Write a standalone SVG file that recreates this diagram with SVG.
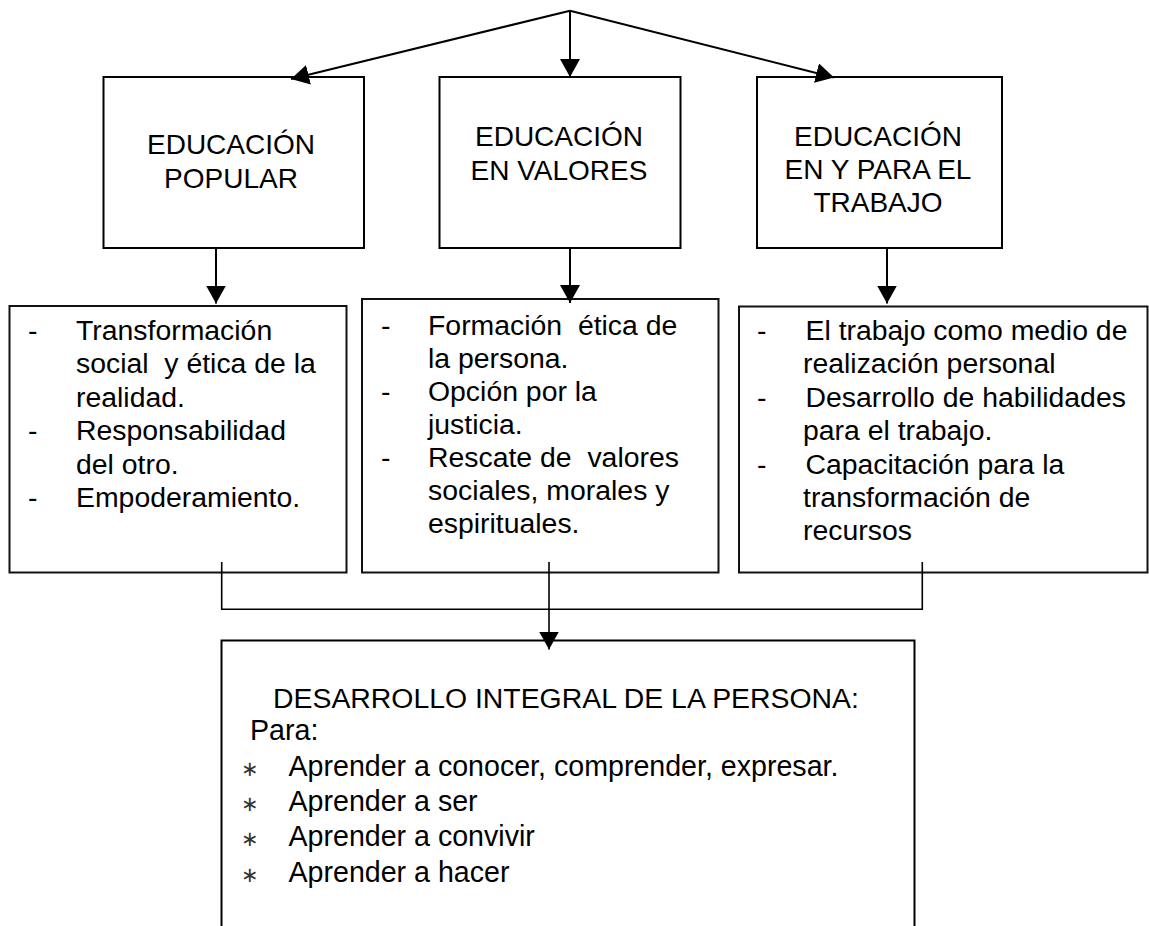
<svg xmlns="http://www.w3.org/2000/svg" width="1149" height="926" viewBox="0 0 1149 926">
<style>
  text { font-family: "Liberation Sans", Arial, sans-serif; font-size: 28px; fill: #000; white-space: pre; }
  .l { font-size: 28.4px; }
  .b { font-size: 28.6px; }
  .c { text-anchor: middle; }
  .box { fill: #fff; stroke: #000; stroke-width: 2; }
  .lbox { fill: #fff; stroke: #111; stroke-width: 2; }
  .conn { fill: none; stroke: #000; stroke-width: 2; }
  .thin { fill: none; stroke: #000; stroke-width: 1.6; }
  .star { font-family: "DejaVu Sans", sans-serif; font-size: 21px; fill: #333; }
</style>
<defs>
  <marker id="ah" markerUnits="userSpaceOnUse" markerWidth="18" markerHeight="20" refX="18" refY="10" orient="auto" viewBox="0 0 18 20">
    <path d="M0,0 L18,10 L0,20 z" fill="#000"/>
  </marker>
</defs>
<rect x="0" y="0" width="1149" height="926" fill="#fff"/>

<g id="node-popular">
  <rect class="box" x="103.5" y="77" width="260.5" height="171"/>
  <text class="c" x="231" y="154">EDUCACIÓN</text>
  <text class="c" x="231" y="188">POPULAR</text>
</g>
<g id="node-valores">
  <rect class="box" x="439.5" y="77" width="241" height="171"/>
  <text class="c" x="559" y="146">EDUCACIÓN</text>
  <text class="c" x="559" y="180">EN VALORES</text>
</g>
<g id="node-trabajo">
  <rect class="box" x="757" y="77" width="245" height="171"/>
  <text class="c" x="878" y="146">EDUCACIÓN</text>
  <text class="c" x="878" y="179">EN Y PARA EL</text>
  <text class="c" x="878" y="212">TRABAJO</text>
</g>

<g id="list-popular" class="l">
  <rect class="lbox" x="9.5" y="306" width="337" height="266.5"/>
  <text class="l" x="28" y="340">-</text><text class="l" x="76" y="340">Transformación</text>
  <text class="l" x="76" y="373.4">social  y ética de la</text>
  <text class="l" x="76" y="406.8">realidad.</text>
  <text class="l" x="28" y="440.2">-</text><text class="l" x="76" y="440.2">Responsabilidad</text>
  <text class="l" x="76" y="473.6">del otro.</text>
  <text class="l" x="28" y="507">-</text><text class="l" x="76" y="507">Empoderamiento.</text>
</g>
<g id="list-valores">
  <rect class="lbox" x="362" y="299" width="356.5" height="273.5"/>
  <text class="l" x="381" y="335">-</text><text class="l" x="428" y="335">Formación  ética de</text>
  <text class="l" x="428" y="368">la persona.</text>
  <text class="l" x="381" y="401">-</text><text class="l" x="428" y="401">Opción por la</text>
  <text class="l" x="428" y="434">justicia.</text>
  <text class="l" x="381" y="467">-</text><text class="l" x="428" y="467">Rescate de  valores</text>
  <text class="l" x="428" y="500">sociales, morales y</text>
  <text class="l" x="428" y="533">espirituales.</text>
</g>
<g id="list-trabajo">
  <rect class="lbox" x="739" y="306.5" width="408.5" height="266"/>
  <text class="l" x="757" y="340">-</text><text class="l" x="805.5" y="340">El trabajo como medio de</text>
  <text class="l" x="803" y="373.4">realización personal</text>
  <text class="l" x="757" y="406.8">-</text><text class="l" x="805.5" y="406.8">Desarrollo de habilidades</text>
  <text class="l" x="803" y="440.2">para el trabajo.</text>
  <text class="l" x="757" y="473.6">-</text><text class="l" x="805.5" y="473.6">Capacitación para la</text>
  <text class="l" x="803" y="507">transformación de</text>
  <text class="l" x="803" y="540.4">recursos</text>
</g>

<g id="node-desarrollo">
  <path class="box" d="M221.5,930 V640.5 H914.5 V930"/>
  <text class="l" x="273" y="708">DESARROLLO INTEGRAL DE LA PERSONA:</text>
  <text class="b" x="250" y="740">Para:</text>
  <text class="star" x="241" y="776">∗</text><text class="b" x="288.5" y="776">Aprender a conocer, comprender, expresar.</text>
  <text class="star" x="241" y="811">∗</text><text class="b" x="288.5" y="811">Aprender a ser</text>
  <text class="star" x="241" y="846">∗</text><text class="b" x="288.5" y="846">Aprender a convivir</text>
  <text class="star" x="241" y="881.5">∗</text><text class="b" x="288.5" y="881.5">Aprender a hacer</text>
</g>

<g id="connectors">
  <line class="conn" x1="570" y1="10.7" x2="291" y2="79" marker-end="url(#ah)"/>
  <line class="conn" x1="570" y1="10.7" x2="570" y2="77" marker-end="url(#ah)"/>
  <line class="conn" x1="570" y1="10.7" x2="834" y2="77.5" marker-end="url(#ah)"/>
  <line class="conn" x1="216" y1="248" x2="216" y2="303.5" marker-end="url(#ah)"/>
  <line class="conn" x1="570" y1="248" x2="570" y2="303" marker-end="url(#ah)"/>
  <line class="conn" x1="887" y1="248" x2="887" y2="303.5" marker-end="url(#ah)"/>
  <path class="thin" d="M221.7,562 V609.3 H922.3 V562"/>
  <line class="thin" x1="549" y1="562" x2="549" y2="649.5" marker-end="url(#ah)"/>
</g>
</svg>
